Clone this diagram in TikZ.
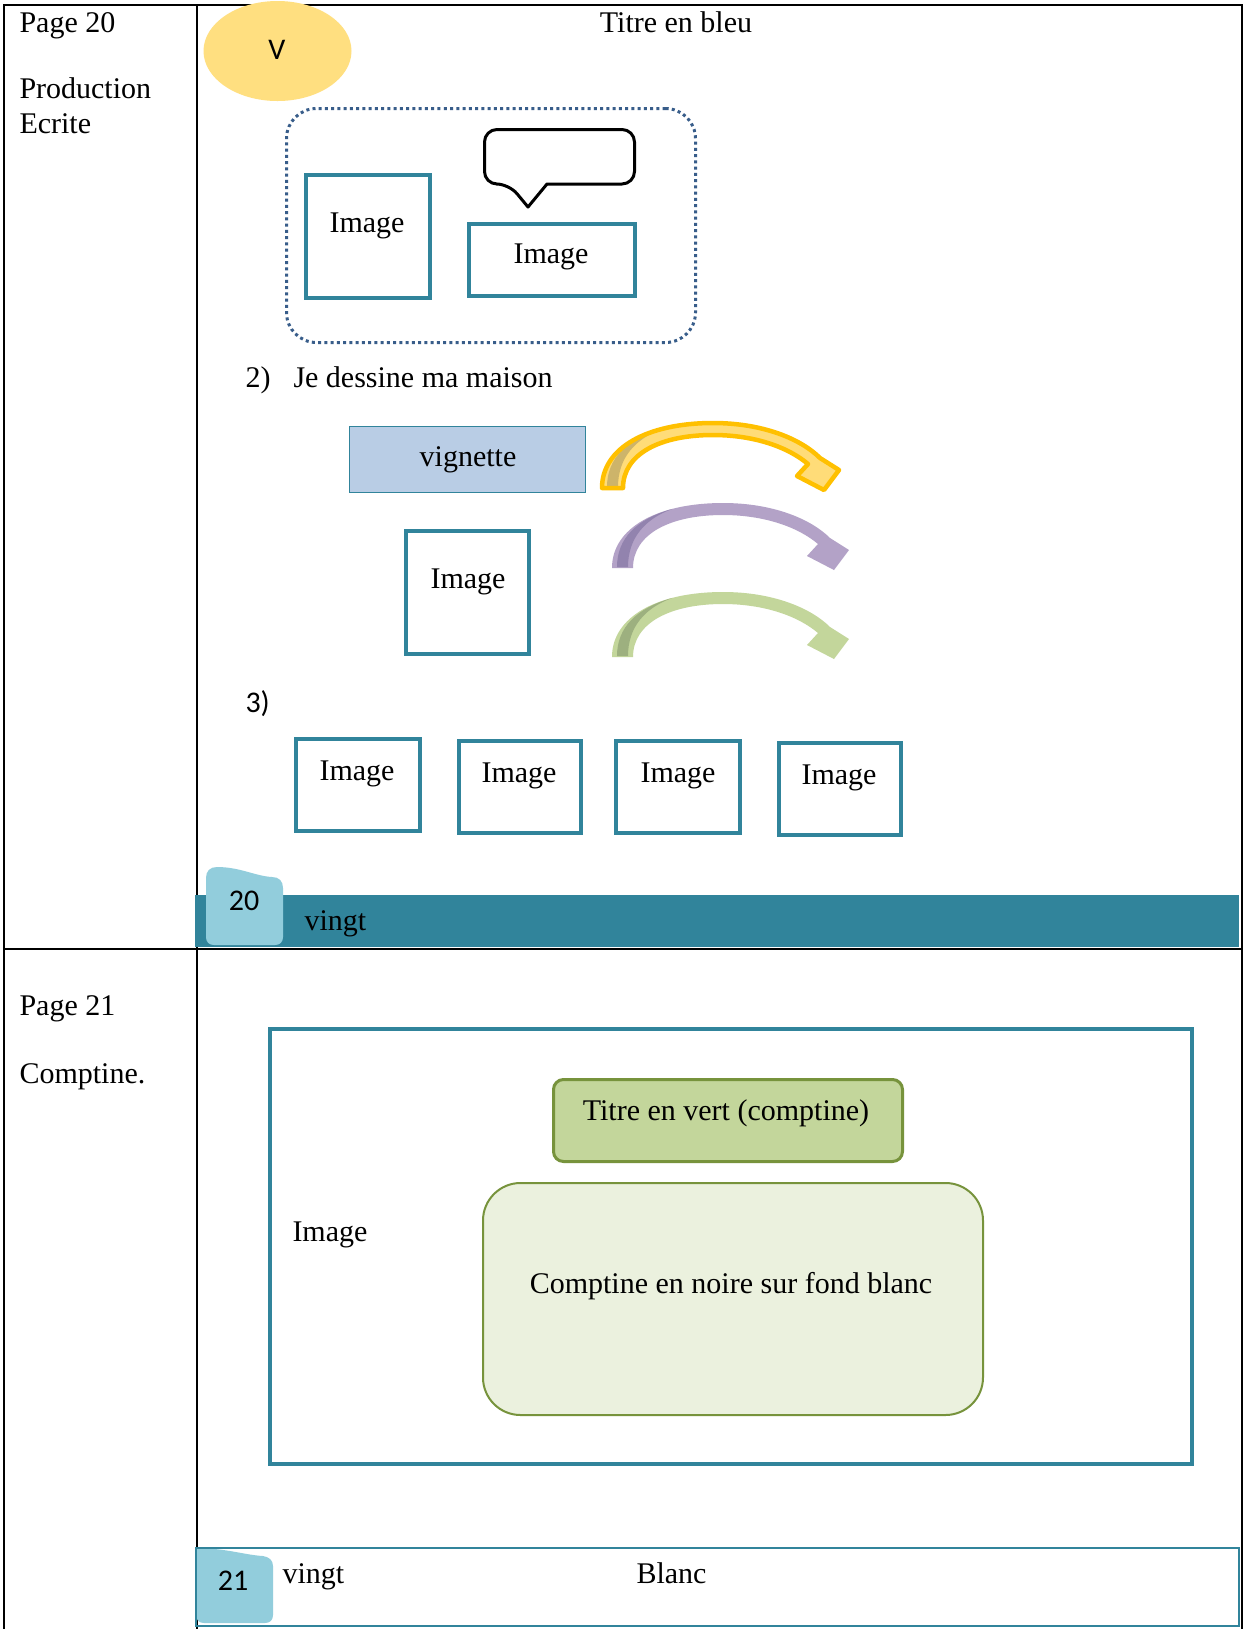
\documentclass[tikz,border=0pt]{standalone}
\usepackage{fontspec}
\setmainfont{Liberation Serif}
\newfontfamily\calibrifont{Carlito}
\usetikzlibrary{shapes.geometric}
\definecolor{tealc}{HTML}{31849B}
\definecolor{tabblue}{HTML}{92CDDC}
\definecolor{goldell}{HTML}{FFDF80}
\definecolor{dotblue}{HTML}{385D8A}
\definecolor{vigfill}{HTML}{B9CDE5}
\definecolor{greentitle}{HTML}{C3D69B}
\definecolor{greenborder}{HTML}{77933C}
\definecolor{greenlight}{HTML}{EBF1DE}
\definecolor{arrYel}{HTML}{FFC000}
\definecolor{arrYelLight}{HTML}{FFDC78}
\definecolor{arrYelDark}{HTML}{CDB46A}
\definecolor{arrPur}{HTML}{B3A2C7}
\definecolor{arrPurDark}{HTML}{9283AE}
\definecolor{arrGre}{HTML}{C3D69B}
\definecolor{arrGreDark}{HTML}{9DB07F}
\newcommand\arrowbody{(0,0) .. controls (0,-40) and (45,-65) .. (111,-65) .. controls (161,-65) and (199,-49) .. (218,-30) -- (237,-18) -- (222,2) -- (195,-12) -- (206,-24) .. controls (186,-41) and (152,-53) .. (111,-53) .. controls (58,-53) and (21,-34) .. (21,0) -- cycle}
\newcommand\arrowstrip{(5,-1) .. controls (5,-30) and (25,-49) .. (60,-59) .. controls (33,-49) and (16,-30) .. (16,-1) -- cycle}
\begin{document}
\begin{tikzpicture}[x=0.4pt,y=-0.4pt,
  txt/.style={inner sep=0pt, anchor=base, font=\fontsize{12}{14}\selectfont},
  txtw/.style={txt, anchor=base west},
  cal/.style={inner sep=0pt, font=\calibrifont\fontsize{12}{14}\selectfont},
  calb/.style={cal, anchor=base},
  tline/.style={draw=black, line width=0.8pt},
  tealbox/.style={draw=tealc, line width=1.6pt, fill=white, inner sep=0pt},
  sz/.style 2 args={minimum width=#1*0.4pt, minimum height=#2*0.4pt}]
\useasboundingbox (0,0) rectangle (1244,1629);
\fill[white] (0,0) rectangle (1244,1629);
% table
\draw[tline] (4,1629) -- (4,5) -- (1242,5) -- (1242,1629);
\draw[tline] (197,5) -- (197,1629);
\draw[tline] (4,949) -- (1242,949);
% left column texts
\node[txtw] (p20) at (19,32) {Page 20};
\node[txtw] (prod) at (19,98) {Production};
\node[txtw] (ecr) at (19,133) {Ecrite};
\node[txtw] (p21) at (19,1015) {Page 21};
\node[txtw] (compt) at (19,1083) {Comptine.};
% top row
\node[ellipse, fill=goldell, inner sep=0pt, sz={148}{100}] (ell) at (277.5,51) {};
\node[cal] (v) at (277,50) {V};
\node[txt] (titre) at (676,32) {Titre en bleu};
\node[draw=dotblue, line width=1.2pt, dash pattern=on 1.2pt off 1.3pt, rounded corners=12pt, inner sep=0pt, sz={409}{234}] (grp) at (491,225.5) {};
\node[tealbox, sz={124}{123}] (img1) at (368,236.5) {};
\node[txt] (img1t) at (367,232) {Image};
\node[tealbox, sz={166}{72}] (img2) at (552,260) {};
\node[txt] (img2t) at (551,263) {Image};
\draw[line width=1.2pt, line join=round] (509,184) -- (528,207) -- (547,184) [rounded corners=5pt] -- (634.5,184) -- (634.5,129.5) -- (484.5,129.5) -- (484.5,184) -- cycle;
% section 2
\node[txtw] (n2) at (245,387) {2)};
\node[txtw] (je) at (293,387) {Je dessine ma maison};
\node[draw=tealc, line width=0.6pt, fill=vigfill, inner sep=0pt, sz={236}{66}] (vig) at (467.5,459.5) {};
\node[txt] (vigt) at (468,466) {vignette};
\node[tealbox, sz={123}{123}] (img3) at (467.5,592.5) {};
\node[txt] (img3t) at (468,588) {Image};
% curved arrows
\begin{scope}[shift={(602,488)}]
  \fill[arrYelLight] \arrowbody;
  \fill[arrYelDark] \arrowstrip;
  \draw[arrYel, line width=1.8pt, line join=round] \arrowbody;
\end{scope}
\begin{scope}[shift={(612,568)}]
  \fill[arrPur] \arrowbody;
  \fill[arrPurDark] \arrowstrip;
\end{scope}
\begin{scope}[shift={(612,657)}]
  \fill[arrGre] \arrowbody;
  \fill[arrGreDark] \arrowstrip;
\end{scope}
% section 3
\node[cal, anchor=base west] (n3) at (245,712) {3)};
\node[tealbox, sz={124}{92}] (r1) at (358,785) {};
\node[txt] (r1t) at (357,780) {Image};
\node[tealbox, sz={122}{92}] (r2) at (520,787) {};
\node[txt] (r2t) at (519,782) {Image};
\node[tealbox, sz={124}{92}] (r3) at (678,787) {};
\node[txt] (r3t) at (678,782) {Image};
\node[tealbox, sz={122}{92}] (r4) at (840,789) {};
\node[txt] (r4t) at (839,784) {Image};
% footer bar 20
\node[fill=tealc, inner sep=0pt, anchor=north west, sz={1044}{52}] (bar) at (194,894) {};
\fill[tabblue] (206,878) .. controls (206,871) and (210,867) .. (217,867) .. controls (240,867) and (255,876) .. (272,877) .. controls (279,877) and (283,881) .. (283,888) -- (283,937) .. controls (283,942) and (280,945) .. (275,945) -- (214,945) .. controls (209,945) and (206,942) .. (206,937) -- cycle;
\node[calb] (n20) at (244,910) {20};
\node[txtw] (vingt1) at (304,930) {vingt};
% bottom row
\node[tealbox, sz={922}{435}] (big) at (731,1246.5) {};
\node[txtw] (bigt) at (292,1241) {Image};
\node[draw=greenborder, line width=1.2pt, fill=greentitle, rounded corners=4pt, inner sep=0pt, sz={349}{82}] (gt) at (728,1120.5) {};
\node[txt] (gtt) at (726,1120) {Titre en vert (comptine)};
\node[draw=greenborder, line width=0.8pt, fill=greenlight, rounded corners=15pt, inner sep=0pt, sz={500}{232}] (gb) at (733,1299) {};
\node[txt] (gbt) at (731,1293) {Comptine en noire sur fond blanc};
% footer 21
\fill[tabblue] (196,1548) .. controls (225,1548) and (245,1555) .. (263,1556) .. controls (269,1557) and (273,1560) .. (273,1566) -- (273,1615) .. controls (273,1620) and (270,1623) .. (265,1623) -- (204,1623) .. controls (199,1623) and (196,1620) .. (196,1615) -- cycle;
\node[draw=tealc, line width=0.7pt, inner sep=0pt, anchor=north west, sz={1043}{78}] (foot) at (195,1547) {};
\node[calb] (n21) at (233,1590) {21};
\node[txtw] (vingt2) at (282,1583) {vingt};
\node[txtw] (blanc) at (636,1583) {Blanc};
\end{tikzpicture}
\end{document}
